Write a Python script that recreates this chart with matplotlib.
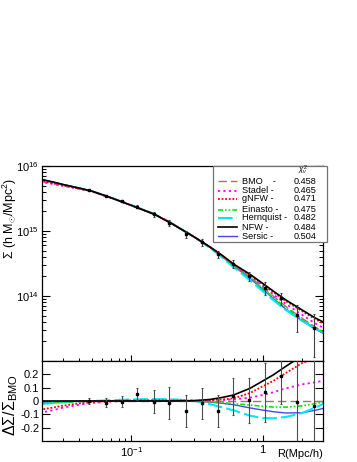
import numpy as np
import matplotlib
matplotlib.use("Agg")
import matplotlib.pyplot as plt
from matplotlib.patches import Rectangle
from matplotlib.lines import Line2D
from matplotlib.ticker import FixedLocator, FixedFormatter, LogLocator, NullFormatter

plt.rcParams.update({
    "font.family": ["Liberation Sans", "DejaVu Sans"],
    "mathtext.fontset": "custom",
    "mathtext.rm": "Liberation Sans",
    "mathtext.it": "Liberation Sans:italic",
    "mathtext.bf": "Liberation Sans:bold",
    "axes.linewidth": 0.9,
})

W, H = 357, 462

# -- data --------------------------------------------------------------
R_pts = [0.0474, 0.0637, 0.084, 0.111, 0.148, 0.194, 0.258, 0.342,
         0.453, 0.596, 0.79, 1.047, 1.39, 1.84, 2.44]
sigma_pts = [4.23e15, 3.49e15, 2.86e15, 2.37e15, 1.81e15, 1.34e15, 9.0e14,
             6.7e14, 4.38e14, 3.1e14, 2.03e14, 1.34e14, 9.2e13, 5.1e13, 3.26e13]
rel_err = [0.02, 0.035, 0.04, 0.045, 0.085, 0.12, 0.12, 0.115,
           0.12, 0.14, 0.17, 0.22, 0.21, 0.45, 0.65]
ratio_pts = [0.0, -0.013, -0.005, 0.054, -0.005, -0.013, -0.074, -0.018,
             -0.072, 0.036, 0.005, 0.064, 0.185, -0.008, -0.038]

R_mod = [0.02, 0.025, 0.03, 0.04, 0.05, 0.07, 0.1, 0.15, 0.2, 0.3,
         0.4, 0.5, 0.6, 0.8, 1.0, 1.2, 1.5, 2.0, 2.5, 3.0]
sigma_bmo = [6.3e15, 5.7e15, 5.2e15, 4.57e15, 4.1e15, 3.24e15, 2.47e15, 1.8e15,
             1.32e15, 8.1e14, 5.56e14, 4.0e14, 2.97e14, 1.97e14, 1.36e14,
             1.0e14, 6.9e13, 4.54e13, 3.35e13, 2.7e13]
# ratio (model - BMO)/BMO
ratio_bmo = [0.0] * 20
ratio_stadel = [-0.09, -0.07, -0.05, -0.028, -0.015, -0.004, 0.0, 0.002, 0.002, 0.002,
                0.004, 0.008, 0.012, 0.025, 0.045, 0.065, 0.095, 0.125, 0.14, 0.155]
ratio_gnfw = [-0.065, -0.05, -0.035, -0.018, -0.008, 0.0, 0.004, 0.005, 0.004, 0.002,
              0.006, 0.012, 0.02, 0.06, 0.11, 0.15, 0.21, 0.285, 0.32, 0.35]
ratio_einasto = [-0.022, -0.015, -0.01, -0.004, 0.0, 0.002, 0.003, 0.003, 0.002, 0.0,
                 -0.006, -0.013, -0.02, -0.03, -0.04, -0.045, -0.046, -0.036, -0.02, -0.005]
ratio_hernquist = [-0.022, -0.015, -0.01, -0.003, 0.0, 0.006, 0.012, 0.014, 0.013, 0.003,
                   -0.025, -0.05, -0.07, -0.11, -0.128, -0.13, -0.12, -0.09, -0.05, -0.015]
ratio_nfw = [0.0, 0.0, 0.0, 0.0, 0.0, 0.0, 0.0, 0.0, 0.0, 0.002,
             0.012, 0.028, 0.045, 0.095, 0.15, 0.195, 0.26, 0.34, 0.38, 0.42]
ratio_sersic = [-0.012, -0.008, -0.005, -0.002, 0.0, 0.002, 0.002, 0.001, 0.0, -0.002,
                -0.008, -0.018, -0.028, -0.052, -0.068, -0.08, -0.09, -0.088, -0.07, -0.052]

model_names = ["BMO", "Stadel", "gNFW", "Einasto", "Hernquist", "NFW", "Sersic"]
model_labels = ["BMO    -", "Stadel -", "gNFW -", "Einasto -", "Hernquist -", "NFW -", "Sersic -"]
chi2 = ["0.458", "0.465", "0.471", "0.475", "0.482", "0.484", "0.504"]
model_ratios = [ratio_bmo, ratio_stadel, ratio_gnfw, ratio_einasto,
                ratio_hernquist, ratio_nfw, ratio_sersic]

STYLE = {
    "BMO": dict(color="#a07860", ls=(0, (6, 3)), lw=1.0),
    "Stadel": dict(color="#ff00ff", ls=(0, (1.2, 1.8)), lw=1.3),
    "gNFW": dict(color="#ff0000", ls=(0, (1, 1)), lw=1.3),
    "Einasto": dict(color="#00ee00", ls=(0, (3, 1.2, 1, 1.2, 1, 1.2)), lw=1.2),
    "Hernquist": dict(color="#00e8ff", ls=(0, (7, 2)), lw=1.5),
    "NFW": dict(color="black", ls="-", lw=1.2),
    "Sersic": dict(color="#4646ff", ls="-", lw=1.0),
}
DRAW_ORDER = ["Sersic", "Hernquist", "Einasto", "Stadel", "gNFW", "BMO", "NFW"]


def fx(x):
    return x / W


def fy(y):
    return 1 - y / H


fig = plt.figure(figsize=(W / 100, H / 100), dpi=100)
axU = fig.add_axes([fx(42), fy(361), fx(323) - fx(42), fy(166) - fy(361)])
axL = fig.add_axes([fx(42), fy(441), fx(323) - fx(42), fy(361) - fy(441)])

R_mod_a = np.array(R_mod)
bmo = np.array(sigma_bmo)
for name in DRAW_ORDER:
    rat = np.array(model_ratios[model_names.index(name)])
    st = STYLE[name]
    axU.plot(R_mod_a, bmo * (1 + rat), color=st["color"], ls=st["ls"], lw=st["lw"])
    axL.plot(R_mod_a, rat, color=st["color"], ls=st["ls"], lw=st["lw"])

sig = np.array(sigma_pts)
err = sig * np.array(rel_err)
axU.errorbar(R_pts, sig, yerr=err, fmt="s", ms=2, color="black", ecolor="0.25",
             elinewidth=0.8, capsize=1.0, capthick=0.8, zorder=5)
axL.errorbar(R_pts, ratio_pts, yerr=rel_err, fmt="s", ms=2, color="black", ecolor="0.3",
             elinewidth=0.8, capsize=1.0, capthick=0.8, zorder=5)

xlim = (0.0208, 2.88)
for ax in (axU, axL):
    ax.set_xscale("log")
    ax.set_xlim(*xlim)
    ax.xaxis.set_major_locator(FixedLocator([0.1, 1.0]))
    ax.xaxis.set_minor_locator(LogLocator(base=10, subs=np.arange(2, 10)))
    ax.xaxis.set_minor_formatter(NullFormatter())
    ax.tick_params(axis="x", which="major", direction="in", length=4, width=0.8,
                   top=False, bottom=True)
    ax.tick_params(axis="x", which="minor", direction="in", length=2.5, width=0.7,
                   top=False, bottom=True)
    ax.tick_params(axis="y", which="major", direction="in", length=6, width=0.8,
                   left=True, right=True, labelsize=8)
    ax.tick_params(axis="y", which="minor", direction="in", length=3, width=0.7,
                   left=True, right=True)

axU.set_yscale("log")
axU.set_ylim(1e13, 1e16)
axU.yaxis.set_major_locator(FixedLocator([1e14, 1e15, 1e16]))
axU.yaxis.set_major_formatter(FixedFormatter([r"$10^{14}$", r"$10^{15}$", r"$10^{16}$"]))
axU.yaxis.set_minor_locator(LogLocator(base=10, subs=np.arange(2, 10)))
axU.yaxis.set_minor_formatter(NullFormatter())
axU.tick_params(axis="x", labelbottom=False)
axU.tick_params(axis="y", pad=2)

axL.set_ylim(-0.3, 0.3)
axL.yaxis.set_major_locator(FixedLocator([-0.2, -0.1, 0.0, 0.1, 0.2]))
axL.yaxis.set_major_formatter(FixedFormatter(["-0.2", "-0.1", "0", "0.1", "0.2"]))
axL.xaxis.set_major_formatter(FixedFormatter([r"$10^{-1}$", "1"]))
axL.tick_params(axis="x", labelsize=8, pad=3)
axL.tick_params(axis="y", pad=2)

# axis titles
fig.text(fx(9.5), fy(178), r"$\Sigma$ (h M$_{\odot}$/Mpc$^{2}$)", rotation=90,
         ha="center", va="top", fontsize=9)
fig.text(fx(10.5), fy(405), r"$\Delta\Sigma/\Sigma_{\rm BMO}$", rotation=90,
         ha="center", va="center", fontsize=11.5)
fig.text(fx(323), fy(454), "R(Mpc/h)", ha="right", va="center", fontsize=8)

# legend box
fig.add_artist(Rectangle((fx(213), fy(242)), fx(327) - fx(213), fy(166) - fy(242),
                         transform=fig.transFigure, facecolor="white",
                         edgecolor="0.45", lw=0.9, zorder=10))
fig.text(fx(303), fy(170.5), r"$\chi^{2}_{\nu}$", ha="center", va="center",
         fontsize=5.5, zorder=11)
row_y = [181, 190.5, 198.5, 209.5, 218, 227, 236.5]
for name, lab, val, yy in zip(model_names, model_labels, chi2, row_y):
    st = STYLE[name]
    fig.add_artist(Line2D([fx(218), fx(237)], [fy(yy), fy(yy)], transform=fig.transFigure,
                          color=st["color"], ls=st["ls"], lw=st["lw"], zorder=11))
    fig.text(fx(242), fy(yy), lab, ha="left", va="center", fontsize=6.6, zorder=11)
    fig.text(fx(316), fy(yy), val, ha="right", va="center", fontsize=6.6, zorder=11)

fig.savefig("out.png", dpi=100)
